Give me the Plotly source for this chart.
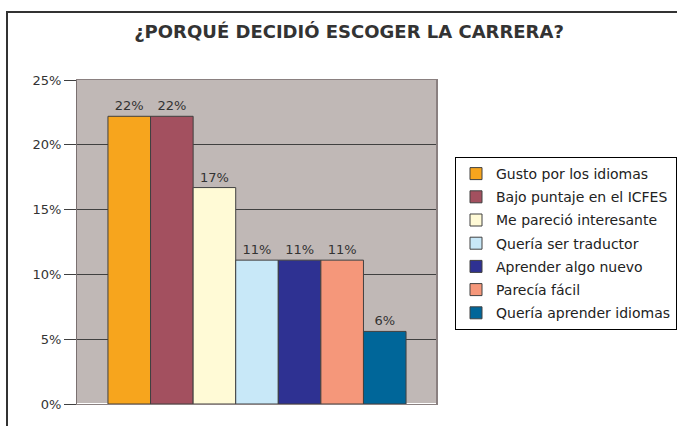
import plotly.graph_objects as go

categories = ["Gusto por los idiomas", "Bajo puntaje en el ICFES", "Me pareció interesante",
              "Quería ser traductor", "Aprender algo nuevo", "Parecía fácil", "Quería aprender idiomas"]
values = [22.2, 22.2, 16.7, 11.1, 11.1, 11.1, 5.6]
labels = ["22%", "22%", "17%", "11%", "11%", "11%", "6%"]
colors = ["#F7A51D", "#A3505F", "#FFFAD6", "#C8E8F8", "#2E3192", "#F5977A", "#006699"]
y_ticks = [0, 5, 10, 15, 20, 25]
y_tick_text = ["0%", "5%", "10%", "15%", "20%", "25%"]

FONT = "DejaVu Sans, Verdana, Arial"

fig = go.Figure()
for name, v, lab, c in zip(categories, values, labels, colors):
    fig.add_trace(go.Bar(
        x=["g"], y=[v], name=name, text=[lab], textposition="outside",
        textfont=dict(size=13, color="#333333", family=FONT),
        marker=dict(color=c, line=dict(color="#404040", width=1)),
        cliponaxis=False, legendgroup=name,
    ))

L, R, T, B = 77, 437, 80, 404
W, H = 677, 426
pw, ph = R - L, B - T

def px(x):
    return (x - L) / pw

def py(y):
    return (B - y) / ph

fig.update_layout(
    width=W, height=H,
    margin=dict(l=L, r=W - R, t=T, b=H - B, pad=0, autoexpand=False),
    paper_bgcolor="white",
    plot_bgcolor="#C0B8B6",
    barmode="group", bargap=0.172, bargroupgap=0,
    font=dict(family=FONT, size=13, color="#333333"),
    title=dict(text="<b>¿PORQUÉ DECIDIÓ ESCOGER LA CARRERA?</b>", x=349 / W, xanchor="center",
               y=1 - 32 / H, yanchor="middle", font=dict(size=18, color="#333333", family=FONT)),
    showlegend=True,
    legend=dict(x=px(455), xanchor="left", y=py(157), yanchor="top",
                bordercolor="#000000", borderwidth=1, bgcolor="white",
                font=dict(size=14, color="#222222", family=FONT), tracegroupgap=2,
                traceorder="grouped", itemwidth=30),
    xaxis=dict(showticklabels=False, showgrid=False, range=[-0.5, 0.5],
               showline=True, linecolor="#8A8080", linewidth=1, mirror=True, ticks=""),
    yaxis=dict(range=[0, 25], tickvals=y_ticks, ticktext=y_tick_text,
               showgrid=True, gridcolor="#404040", gridwidth=1,
               ticks="outside", ticklen=12, tickcolor="#404040",
               showline=True, linecolor="#7A7070", linewidth=1, mirror=True,
               tickfont=dict(size=13, color="#333333", family=FONT)),
    shapes=[
        dict(type="line", xref="paper", yref="paper", x0=px(7), x1=px(7), y0=py(12), y1=py(430),
             line=dict(color="#333333", width=2)),
        dict(type="line", xref="paper", yref="paper", x0=px(6), x1=px(690), y0=py(12), y1=py(12),
             line=dict(color="#333333", width=2)),
        dict(type="line", xref="paper", yref="paper", x0=1, x1=1, y0=0, y1=1,
             line=dict(color="#8A8080", width=2)),
    ],
)
fig.write_html("out.html", config={"displayModeBar": False},
               post_script="document.body.style.margin='0';document.body.style.overflow='hidden';")
